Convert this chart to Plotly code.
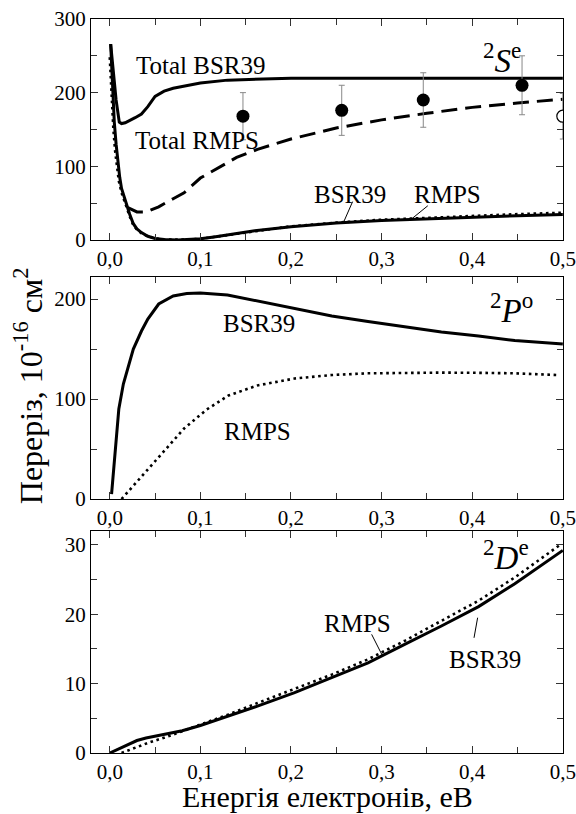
import plotly.graph_objects as go

FONT = "Liberation Serif, Times New Roman, DejaVu Serif, serif"

# ---------------- Panel 1 (2S^e) ----------------
e_tot_bsr = [0.001, 0.004, 0.007, 0.0105, 0.013, 0.017, 0.022, 0.028, 0.035, 0.042, 0.05, 0.06,
             0.07, 0.085, 0.1, 0.13, 0.16, 0.2, 0.3, 0.4, 0.5]
s_tot_bsr = [266, 225, 190, 160, 158, 159, 162, 166, 171, 181, 195, 202,
             206, 210, 213, 217, 218.5, 219.5, 219.5, 219.5, 219.5]

e_tot_rmps = [0.02, 0.03, 0.04, 0.054, 0.07, 0.082, 0.1, 0.12, 0.14, 0.163, 0.2, 0.25,
              0.3, 0.35, 0.4, 0.45, 0.5]
s_tot_rmps = [44, 38, 38, 45, 56, 64, 84, 98, 112, 123, 137, 152,
              163, 172, 180, 186, 191]

e_s_bsr = [0.001, 0.003, 0.005, 0.007, 0.009, 0.011, 0.013, 0.016, 0.019, 0.022, 0.026, 0.03,
           0.035, 0.042, 0.05, 0.06, 0.075, 0.09, 0.1, 0.115, 0.13, 0.16, 0.2, 0.25, 0.3,
           0.35, 0.4, 0.45, 0.5]
s_s_bsr = [266, 210, 160, 130, 105, 85, 70, 58, 45, 35, 22, 15,
           10, 5, 2, 0.5, 0, 0.5, 1.5, 4, 7, 12.5, 18, 23, 26.5,
           29, 31.5, 33, 34.5]

e_s_rmps = [0.0, 0.002, 0.004, 0.006, 0.008, 0.01, 0.013, 0.016, 0.019, 0.022, 0.026, 0.03,
            0.035, 0.042, 0.05, 0.06, 0.075, 0.09, 0.1, 0.115, 0.13, 0.16, 0.2, 0.25, 0.3,
            0.35, 0.4, 0.45, 0.5]
s_s_rmps = [248, 195, 150, 120, 98, 80, 64, 52, 43, 32, 20, 14,
            9, 5, 2, 0.5, 0, 0.5, 1.5, 4, 7, 12.5, 18.5, 23.5, 27.5,
            30, 33, 35, 37]

e_exp = [0.147, 0.256, 0.346, 0.455]
s_exp = [168, 176, 190, 210]
err_exp = [32, 34, 37, 40]

e_exp_open = [0.5]
s_exp_open = [168]
err_exp_open = [31]

# ---------------- Panel 2 (2P^o) ----------------
e_p_bsr = [0.002, 0.005, 0.01, 0.015, 0.02, 0.026, 0.035, 0.042, 0.054, 0.07, 0.085, 0.1,
           0.13, 0.163, 0.204, 0.245, 0.285, 0.326, 0.366, 0.407, 0.447, 0.5]
s_p_bsr = [5, 40, 90, 115, 132, 150, 168, 180, 195, 203, 205.5, 206,
           204, 198, 190, 183, 177.5, 172.4, 167, 163, 158.5, 155]

e_p_rmps = [0.013, 0.025, 0.042, 0.062, 0.082, 0.107, 0.131, 0.163, 0.204, 0.245, 0.285,
            0.33, 0.366, 0.407, 0.447, 0.494]
s_p_rmps = [0, 12, 29, 50, 70.5, 89.5, 103.5, 113.6, 120.5, 124, 125.7,
            126.3, 126.4, 126.2, 125.7, 124]

# ---------------- Panel 3 (2D^e) ----------------
e_d_bsr = [0.0, 0.01, 0.02, 0.03, 0.04, 0.05, 0.06, 0.08, 0.1, 0.131, 0.163, 0.204, 0.245,
           0.285, 0.326, 0.366, 0.407, 0.447, 0.5]
s_d_bsr = [0, 0.6, 1.25, 1.8, 2.15, 2.4, 2.6, 3.2, 3.96, 5.3, 6.75, 8.7, 10.85,
           13.0, 15.7, 18.3, 21.1, 24.4, 29.2]

e_d_rmps = [0.013, 0.03, 0.042, 0.055, 0.07, 0.1, 0.131, 0.163, 0.204, 0.245, 0.285,
            0.326, 0.366, 0.407, 0.447, 0.496]
s_d_rmps = [0, 0.9, 1.45, 2.0, 2.65, 4.1, 5.55, 7.2, 9.2, 11.3, 13.5,
            16.2, 19.05, 21.95, 25.3, 29.9]

# ---------------- tick labels ----------------
x_tickvals = [0.0, 0.1, 0.2, 0.3, 0.4, 0.5]
x_ticktext = ["0,0", "0,1", "0,2", "0,3", "0,4", "0,5"]
y1_tickvals = [0, 100, 200, 300]
y2_tickvals = [0, 100, 200]
y3_tickvals = [0, 10, 20, 30]

# ---------------- text labels ----------------
labels_p1 = [("Total BSR39", 0.101, 236.5), ("Total RMPS", 0.096, 135),
             ("BSR39", 0.265, 62), ("RMPS", 0.373, 62)]
labels_p2 = [("BSR39", 0.165, 176), ("RMPS", 0.163, 68)]
labels_p3 = [("RMPS", 0.273, 18.7), ("BSR39", 0.414, 13.5)]
terms = [("<sup>2</sup><i>S</i><sup>e</sup>", 0.433, 247, "x", "y"),
         ("<sup>2</sup><i>P</i><sup>o</sup>", 0.443, 191, "x2", "y2"),
         ("<sup>2</sup><i>D</i><sup>e</sup>", 0.437, 28.5, "x3", "y3")]
leaders = [(0.268, 52, 0.2575, 22.5, "x", "y"), (0.351, 46.4, 0.333, 28.4, "x", "y"),
           (0.289, 17.1, 0.301, 14.0, "x3", "y3"), (0.402, 16.6, 0.406, 19.5, "x3", "y3")]

x_title = "Енергія електронів, еВ"
y_title = "Переріз, 10<sup>-16</sup> см<sup>2</sup>"

fig = go.Figure()

solid = dict(color="black", width=3)
dotted = dict(color="black", width=2.6, dash="2.6px,3.6px")
dashed = dict(color="black", width=3, dash="16px,8px")

# panel 1
fig.add_trace(go.Scatter(x=e_s_rmps, y=s_s_rmps, mode="lines", line=dotted, xaxis="x", yaxis="y"))
fig.add_trace(go.Scatter(x=e_s_bsr, y=s_s_bsr, mode="lines", line=solid, xaxis="x", yaxis="y"))
fig.add_trace(go.Scatter(x=e_tot_bsr, y=s_tot_bsr, mode="lines", line=solid, xaxis="x", yaxis="y"))
fig.add_trace(go.Scatter(x=e_tot_rmps, y=s_tot_rmps, mode="lines", line=dashed, xaxis="x", yaxis="y"))
fig.add_trace(go.Scatter(x=e_exp, y=s_exp, mode="markers",
                         marker=dict(color="black", size=13, symbol="circle"),
                         error_y=dict(type="data", array=err_exp, color="#888", thickness=1, width=3),
                         xaxis="x", yaxis="y"))
fig.add_trace(go.Scatter(x=e_exp_open, y=s_exp_open, mode="markers",
                         marker=dict(color="white", size=12, symbol="circle",
                                     line=dict(color="black", width=1.2)),
                         error_y=dict(type="data", array=err_exp_open, color="#888", thickness=1, width=3),
                         xaxis="x", yaxis="y"))
# panel 2
fig.add_trace(go.Scatter(x=e_p_bsr, y=s_p_bsr, mode="lines", line=solid, xaxis="x2", yaxis="y2"))
fig.add_trace(go.Scatter(x=e_p_rmps, y=s_p_rmps, mode="lines", line=dotted, xaxis="x2", yaxis="y2"))
# panel 3
fig.add_trace(go.Scatter(x=e_d_rmps, y=s_d_rmps, mode="lines", line=dotted, xaxis="x3", yaxis="y3"))
fig.add_trace(go.Scatter(x=e_d_bsr, y=s_d_bsr, mode="lines", line=solid, xaxis="x3", yaxis="y3"))

tickfont = dict(family=FONT, size=21, color="black")


def xaxis(anchor):
    return dict(range=[-0.0207, 0.5002], anchor=anchor, tickmode="array", tickvals=x_tickvals,
                ticktext=x_ticktext, showline=True, linecolor="black", linewidth=1.2,
                mirror="ticks", ticks="inside", ticklen=7, tickwidth=1, tickcolor="#333",
                minor=dict(ticks="inside", ticklen=6, tickwidth=1, tickcolor="#333",
                           tick0=0, dtick=0.05),
                showgrid=False, zeroline=False, tickfont=tickfont, domain=[0, 1],
                automargin=False)


def yaxis(anchor, rng, tv, mdt, dom):
    return dict(range=rng, anchor=anchor, tickmode="array", tickvals=tv,
                showline=True, linecolor="black", linewidth=1.2,
                mirror="ticks", ticks="inside", ticklen=7, tickwidth=1, tickcolor="#333",
                minor=dict(ticks="inside", ticklen=6, tickwidth=1, tickcolor="#333",
                           tick0=0, dtick=mdt),
                showgrid=False, zeroline=False, tickfont=tickfont, domain=dom,
                automargin=False)


ann = []
lbl_font = dict(family=FONT, size=25, color="black")
for t, x, y in labels_p1:
    ann.append(dict(text=t, x=x, y=y, xref="x", yref="y", showarrow=False, font=lbl_font))
for t, x, y in labels_p2:
    ann.append(dict(text=t, x=x, y=y, xref="x2", yref="y2", showarrow=False, font=lbl_font))
for t, x, y in labels_p3:
    ann.append(dict(text=t, x=x, y=y, xref="x3", yref="y3", showarrow=False, font=lbl_font))
for t, x, y, xr, yr in terms:
    ann.append(dict(text=t, x=x, y=y, xref=xr, yref=yr, showarrow=False,
                    font=dict(family=FONT, size=33, color="black")))
ann.append(dict(text=x_title, x=0.5, y=-0.059, xref="paper", yref="paper", showarrow=False,
                xanchor="center", yanchor="middle", font=dict(family=FONT, size=30, color="black")))
ann.append(dict(text=y_title, x=-0.133, y=0.5, xref="paper", yref="paper", showarrow=False,
                textangle=-90, xanchor="center", yanchor="middle",
                font=dict(family=FONT, size=32, color="black")))

shapes = []
for x0, y0, x1, y1, xr, yr in leaders:
    shapes.append(dict(type="line", x0=x0, y0=y0, x1=x1, y1=y1, xref=xr, yref=yr,
                       line=dict(color="black", width=1)))

fig.update_layout(
    width=576, height=814,
    margin=dict(l=91, r=13, t=19, b=61),
    paper_bgcolor="white", plot_bgcolor="white",
    showlegend=False,
    xaxis=xaxis("y"), yaxis=yaxis("x", [0, 300], y1_tickvals, 50, [0.699, 1.0]),
    xaxis2=xaxis("y2"), yaxis2=yaxis("x2", [0, 222], y2_tickvals, 50, [0.346, 0.6485]),
    xaxis3=xaxis("y3"), yaxis3=yaxis("x3", [0, 32], y3_tickvals, 5, [0, 0.3025]),
    annotations=ann, shapes=shapes,
    font=dict(family=FONT, color="black"),
)

fig.write_html("out.html", config={"displayModeBar": False},
               post_script="document.body.style.margin='0px';")
